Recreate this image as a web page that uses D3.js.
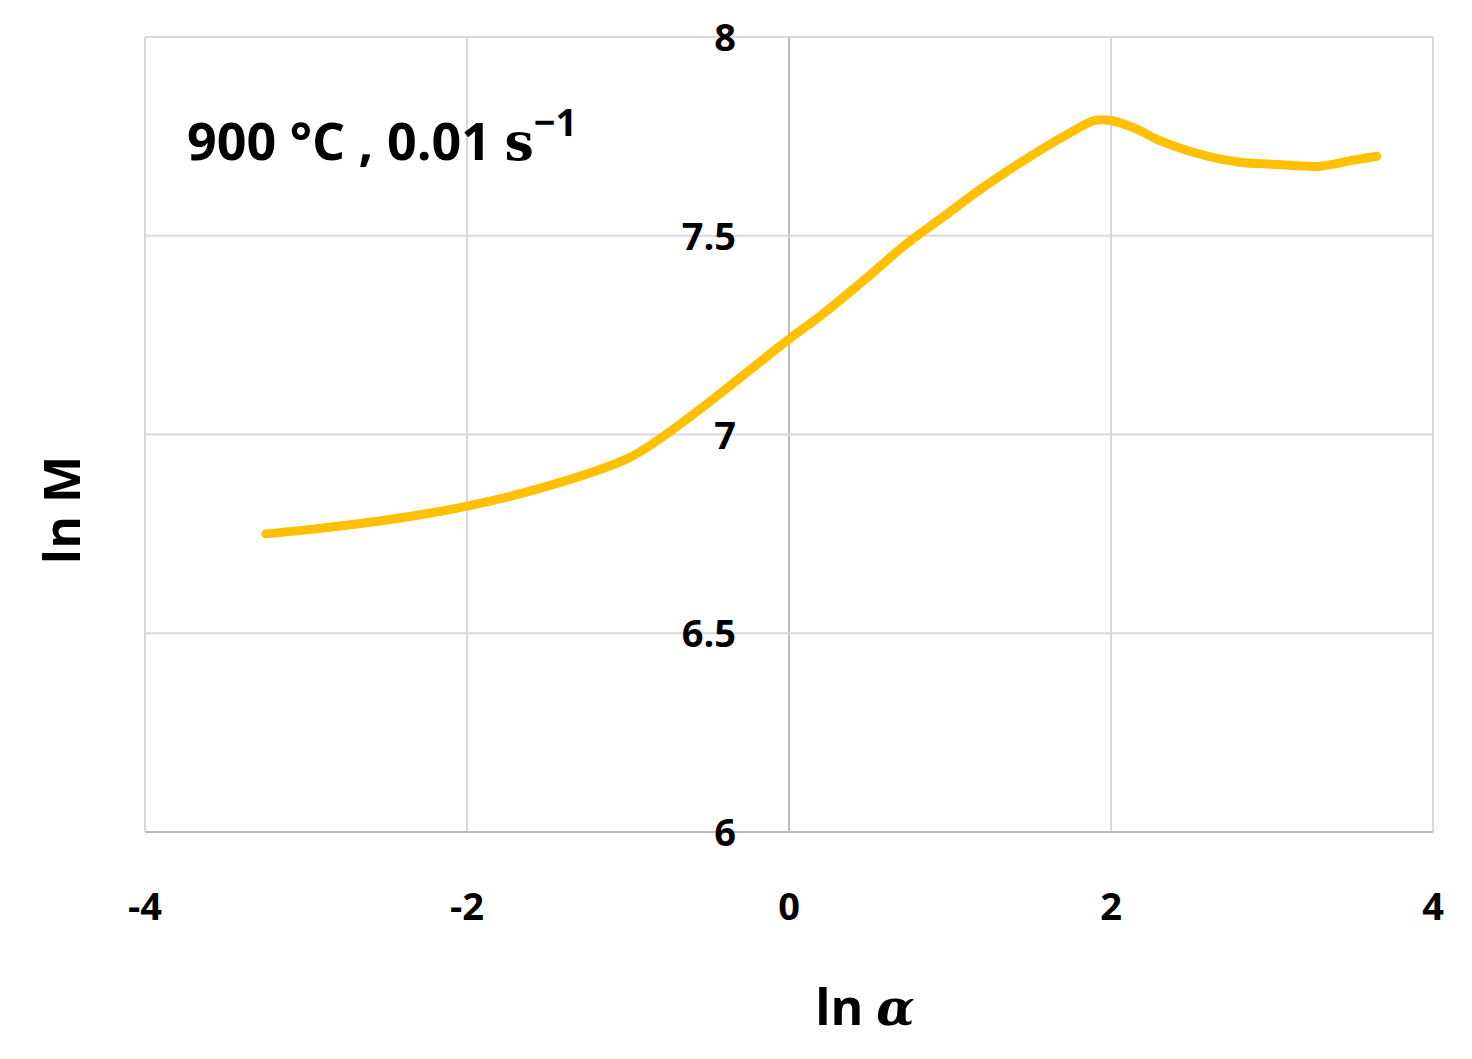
<!DOCTYPE html>
<html><head><meta charset="utf-8">
<script src="https://cdn.jsdelivr.net/npm/d3@7"></script>
<style>body{margin:0;background:#fff}text{font-family:"Open Sans","DejaVu Sans",sans-serif}</style>
</head><body>
<svg id="chart" width="1472" height="1059"></svg>
<script>
// ln alpha vs ln M
var lnAlpha = [-3.25,-3,-2.5,-2,-1.5,-1,-0.8,-0.5,0,0.2,0.5,0.7,1,1.2,1.5,1.75,1.9,2.0,2.15,2.3,2.6,2.8,3,3.3,3.5,3.65];
var lnM     = [6.75,6.76,6.785,6.82,6.87,6.94,6.99,7.08,7.24,7.30,7.40,7.47,7.56,7.62,7.70,7.76,7.79,7.79,7.77,7.74,7.70,7.685,7.68,7.675,7.69,7.70];
var xTicks = [-4,-2,0,2,4];
var yTicks = [6,6.5,7,7.5,8];

var svg = d3.select("#chart");
var x = d3.scaleLinear().domain([-4,4]).range([145,1433]);
var y = d3.scaleLinear().domain([6,8]).range([832,37]);

// grid
svg.selectAll(".vg").data(xTicks).enter().append("line")
    .attr("x1", d => x(d)).attr("x2", d => x(d)).attr("y1", y(6)).attr("y2", y(8))
    .attr("stroke", d => d === 0 ? "#bbb" : "#d9d9d9").attr("stroke-width", 2);
svg.selectAll(".hg").data(yTicks).enter().append("line")
    .attr("x1", x(-4)).attr("x2", x(4)).attr("y1", d => y(d)).attr("y2", d => y(d))
    .attr("stroke", d => d === 6 ? "#bbb" : "#d9d9d9").attr("stroke-width", 2);

// tick labels
svg.selectAll(".xt").data(xTicks).enter().append("text")
    .attr("x", d => x(d)).attr("y", 920).attr("text-anchor", "middle")
    .attr("font-size", 38).attr("font-weight", "bold").text(d => d);
svg.selectAll(".yt").data(yTicks).enter().append("text")
    .attr("x", x(0) - 53).attr("y", d => y(d) + 14).attr("text-anchor", "end")
    .attr("font-size", 38).attr("font-weight", "bold").text(d => d);

// curve
var line = d3.line().x((d, i) => x(lnAlpha[i])).y(d => y(d)).curve(d3.curveCatmullRom);
svg.append("path").datum(lnM).attr("d", line)
    .attr("fill", "none").attr("stroke", "#FFC000").attr("stroke-width", 9).attr("stroke-linecap", "round");

// axis titles
svg.append("text").attr("x", 865).attr("y", 1025).attr("text-anchor", "middle")
    .attr("font-size", 50).attr("font-weight", "bold")
    .html('ln <tspan font-style="italic" font-family="DejaVu Serif">α</tspan>');
svg.append("text").attr("transform", "translate(80,510) rotate(-90)").attr("text-anchor", "middle")
    .attr("font-size", 50).attr("font-weight", "bold").text("ln M");

// annotation
svg.append("text").attr("x", 187).attr("y", 160).attr("font-size", 52).attr("font-weight", "bold")
    .html('900 °C , 0.01 <tspan font-family="DejaVu Serif">s</tspan><tspan dy="-24" font-size="38">−1</tspan>');
</script>
</body></html>
